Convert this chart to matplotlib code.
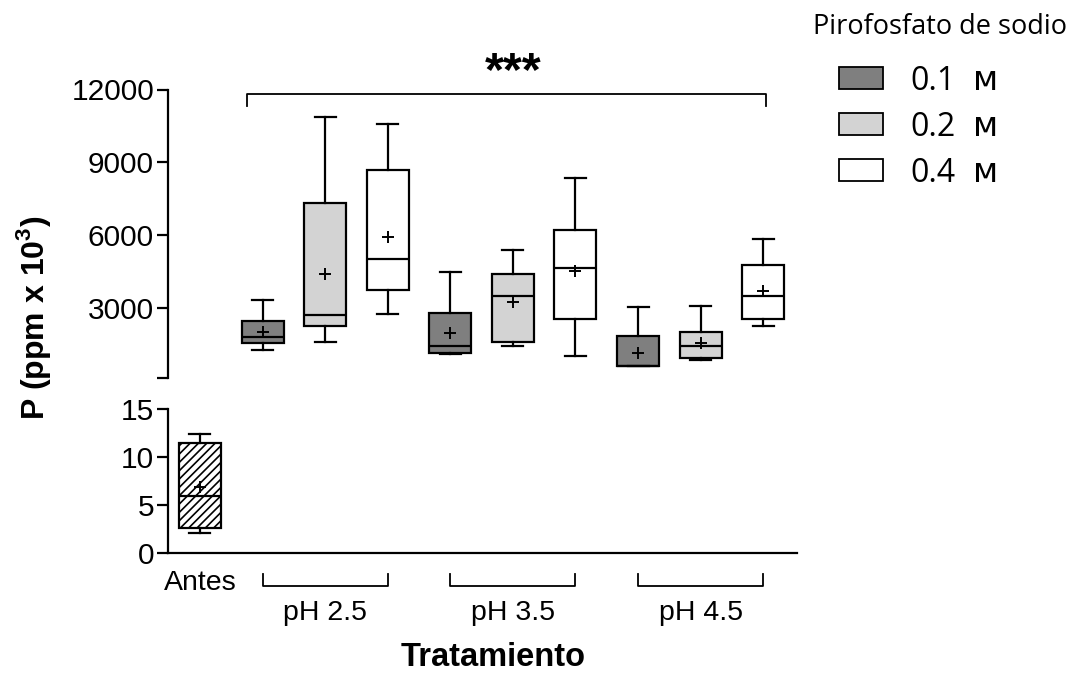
import matplotlib
matplotlib.use("Agg")
import matplotlib.pyplot as plt
import matplotlib.transforms as mtransforms
from matplotlib.patches import Rectangle

plt.rcParams['font.family'] = ['Liberation Sans', 'DejaVu Sans']
plt.rcParams['mathtext.fontset'] = 'custom'
plt.rcParams['mathtext.rm'] = 'Liberation Sans'
plt.rcParams['mathtext.bf'] = 'Liberation Sans:bold'
plt.rcParams['hatch.linewidth'] = 1.2

# ---------------- data ----------------
groups = ["pH 2.5", "pH 3.5", "pH 4.5"]
concentrations = ["0.1", "0.2", "0.4"]
treat_labels = ["pH2.5 0.1", "pH2.5 0.2", "pH2.5 0.4",
                "pH3.5 0.1", "pH3.5 0.2", "pH3.5 0.4",
                "pH4.5 0.1", "pH4.5 0.2", "pH4.5 0.4"]
whislo = [1285, 1630, 2765, 1120, 1450, 1026, 610, 875, 2285]
q1 = [1560, 2285, 3765, 1150, 1630, 2560, 627, 968, 2572]
med = [1820, 2710, 5040, 1450, 3494, 4670, 640, 1437, 3518]
q3 = [2490, 7340, 8690, 2794, 4400, 6220, 1860, 2040, 4793]
whishi = [3341, 10880, 10570, 4505, 5385, 8360, 3053, 3095, 5863]
means = [2040, 4410, 5920, 1972, 3270, 4547, 1150, 1585, 3724]

antes_label = "Antes"
antes_stats = dict(whislo=2.1, q1=2.6, med=5.96, q3=11.5, whishi=12.37, mean=6.9)

fill_colors = ["#7f7f7f", "#d3d3d3", "#ffffff"]
top_ticks = [3000, 6000, 9000, 12000]
bottom_ticks = [0, 5, 10, 15]

# ---------------- figure ----------------
W, H = 1078, 675
fig = plt.figure(figsize=(W / 100, H / 100), dpi=100)

def fx(px):
    return px / W

def fy(py):
    return 1 - py / H

left_px, right_px = 168, 797
ax_top = fig.add_axes([fx(left_px), fy(378), fx(right_px - left_px), (378 - 89.5) / H])
ax_bot = fig.add_axes([fx(left_px), fy(552.7), fx(right_px - left_px), (552.7 - 409.3) / H])

xlim = (-0.511, 9.54)
lw = 1.6
tick_fs = 21.5

boxprops = dict(linewidth=lw, edgecolor='black')
common = dict(widths=0.67, showmeans=True, showfliers=False, patch_artist=True,
              boxprops=boxprops, whiskerprops=dict(linewidth=lw, color='black'),
              capprops=dict(linewidth=lw, color='black'),
              medianprops=dict(linewidth=lw, color='black'),
              meanprops=dict(marker='+', markeredgecolor='black', markersize=9, markeredgewidth=1.4))

stats = []
for i in range(len(treat_labels)):
    stats.append(dict(label=treat_labels[i], whislo=whislo[i], q1=q1[i], med=med[i],
                      q3=q3[i], whishi=whishi[i], mean=means[i]))
positions = list(range(1, len(treat_labels) + 1))
bp = ax_top.bxp(stats, positions=positions, **common)
for k, b in enumerate(bp['boxes']):
    b.set_facecolor(fill_colors[k % 3])

st = dict(label=antes_label, **antes_stats)
bpa = ax_bot.bxp([st], positions=[0], **common)
for b in bpa['boxes']:
    b.set_facecolor('white')
    b.set_hatch('////')

# axes styling
for ax in (ax_top, ax_bot):
    ax.set_xlim(*xlim)
    ax.spines['right'].set_visible(False)
    ax.spines['top'].set_visible(False)
    ax.spines['left'].set_linewidth(lw)
    ax.tick_params(axis='y', length=8, width=lw, labelsize=tick_fs, pad=2)
    ax.tick_params(axis='x', bottom=False, labelbottom=False)
    ax.patch.set_alpha(0)
ax_top.spines['bottom'].set_visible(False)
ax_bot.spines['bottom'].set_linewidth(lw)

ybot_top = 130
ax_top.set_ylim(ybot_top, 12000)
ax_top.set_yticks([ybot_top] + top_ticks)
ax_top.set_yticklabels([''] + [str(t) for t in top_ticks])
ax_bot.set_ylim(0, 15)
ax_bot.set_yticks(bottom_ticks)
ax_bot.set_yticklabels([str(t) for t in bottom_ticks])

# significance bracket
ax_top.plot([0.75, 0.75, 9.05, 9.05], [11330, 11815, 11815, 11330], color='black',
            lw=1.3, clip_on=False)
ax_top.text(5.0, 12180, "***", ha='center', va='baseline', fontsize=35,
            fontweight='bold', clip_on=False)

# x labels and group brackets
trans = mtransforms.blended_transform_factory(ax_bot.transData, fig.transFigure)
ax_bot.text(0, fy(583), antes_label, transform=trans, ha='center', va='center', fontsize=20.5)
for g, name in enumerate(groups):
    a = 1 + 3 * g
    b = a + 2
    ax_bot.plot([a, a, b, b], [fy(574), fy(586), fy(586), fy(574)], transform=trans,
                color='black', lw=1.3, clip_on=False)
    ax_bot.text(a + 1, fy(613), name, transform=trans, ha='center', va='center', fontsize=20.5)

fig.text(fx(493), fy(657), "Tratamiento", ha='center', va='center', fontsize=23.5,
         fontweight='bold')
fig.text(fx(34), fy(318), r"P (ppm x 10$^{\mathbf{3}}$)", ha='center', va='center',
         rotation=90, fontsize=23, fontweight='bold')

# legend (manual)
lg_font = ['Open Sans', 'DejaVu Sans']
fig.text(fx(940), fy(27), "Pirofosfato de sodio", ha='center', va='center',
         fontsize=19.5, family=lg_font)
for k, c in enumerate(concentrations):
    yc = 78 + k * 46
    fig.patches.append(Rectangle((fx(839), fy(yc + 11)), fx(44), 22 / H, facecolor=fill_colors[k],
                                 edgecolor='black', lw=1.3, transform=fig.transFigure))
    t = fig.text(fx(910), fy(yc + 12), c, ha='left', va='baseline', fontsize=23, family=lg_font)
    fig.text(fx(973), fy(yc + 12), "ᴍ", ha='left', va='baseline', fontsize=24,
             family=['DejaVu Sans', 'Noto Sans'])

fig.savefig("out.png", dpi=100)
